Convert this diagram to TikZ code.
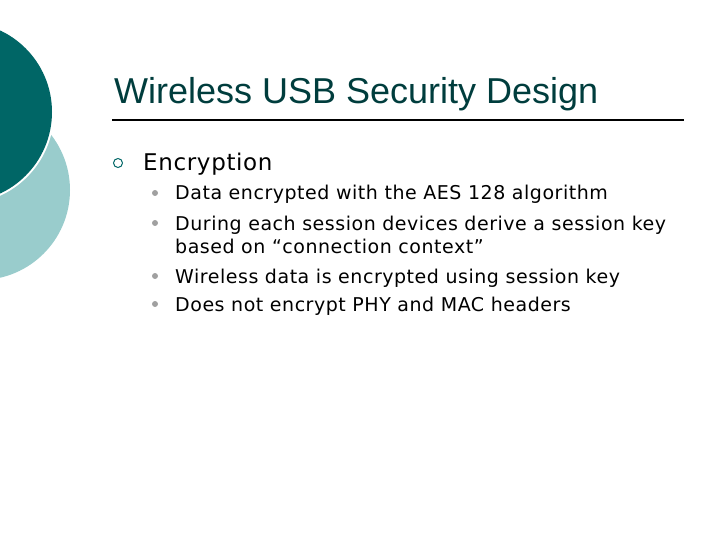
\documentclass[tikz,border=0pt]{standalone}
\usepackage{fontspec}
\setmainfont{Liberation Sans}
\newfontfamily\dv[LetterSpace=2.8]{DejaVu Sans}
\definecolor{dteal}{HTML}{006666}
\definecolor{lteal}{HTML}{99CCCC}
\definecolor{bgrey}{HTML}{A0A0A0}
\begin{document}
\begin{tikzpicture}[x=1pt,y=-1pt,
  sub/.style={anchor=base west,inner sep=0pt,font=\dv\fontsize{19}{22}\selectfont},
  dot/.style={circle,fill=bgrey,inner sep=0pt,minimum size=6pt}]
\useasboundingbox (0,0) rectangle (720,540);
\fill[lteal] (-20,190) circle (90);
\fill[white] (-38,112) circle (92);
\fill[dteal] (-38,112) circle (90);
\node[anchor=base west,inner sep=0pt,font=\fontsize{36}{40}\selectfont,text=dteal!60!black] (title) at (114,104) {Wireless USB Security Design};
\draw[line width=1.5pt] (112,120) -- (684,120);
\node[circle,draw=dteal,line width=1pt,inner sep=0pt,minimum size=9pt] (r) at (118,163) {};
\node[anchor=base west,inner sep=0pt,font=\dv\fontsize{23}{26}\selectfont] (enc) at (143,171) {Encryption};
\node[dot] (b1) at (155,193) {};
\node[sub] (t1) at (175,200) {Data encrypted with the AES 128 algorithm};
\node[dot] (b2) at (155,223) {};
\node[sub] (t2) at (175,230) {During each session devices derive a session key};
\node[sub] (t2b) at (175,254) {based on “connection context”};
\node[dot] (b3) at (155,276) {};
\node[sub] (t3) at (175,283) {Wireless data is encrypted using session key};
\node[dot] (b4) at (155,304) {};
\node[sub] (t4) at (175,311) {Does not encrypt PHY and MAC headers};
\end{tikzpicture}
\end{document}
